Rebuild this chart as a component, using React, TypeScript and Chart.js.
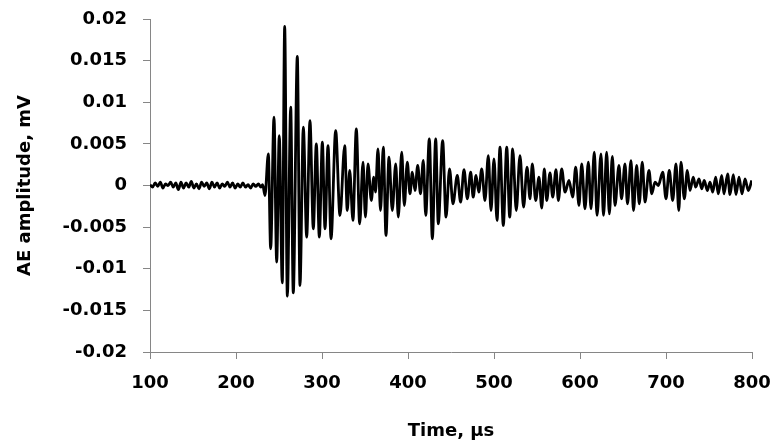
import React, { useEffect, useRef } from "react";
import { Chart, registerables } from "chart.js";

Chart.register(...registerables);

// Pre-trigger noise (time in µs, amplitude in mV)
const noiseTimes = [100, 103, 106, 109, 112, 115, 118, 121, 124, 127, 130, 133, 136, 139, 142, 145, 148, 151, 154, 157, 160, 163, 166, 169, 172, 175, 178, 181, 184, 187, 190, 193, 196, 199, 202, 205, 208, 211, 214, 217, 220, 223, 226, 229, 231];
const noiseAmps = [0.0001, -0.0002, 0.0003, -0.0001, 0.0004, -0.0003, 0.0002, 0.0, 0.0004, -0.0002, 0.0003, -0.0005, 0.0004, -0.0003, 0.0003, -0.0002, 0.0005, -0.0003, 0.0002, -0.0004, 0.0004, -0.0001, 0.0003, -0.0004, 0.0004, -0.0002, 0.0003, -0.0003, 0.0002, -0.0001, 0.0004, -0.0002, 0.0003, -0.0003, 0.0002, -0.0002, 0.0003, -0.0002, 0.0001, -0.0003, 0.0002, -0.0001, 0.0002, -0.0002, 0.0001];

// AE burst extrema (time in µs, amplitude in mV)
const burstTimes = [
  233.7, 237.6, 240.3, 244.2, 247.3, 250.3, 253.8, 256.6, 259.7, 263.6, 266.6, 271.3, 274.4, 278.3, 282.2, 286.0, 289.9, 293.4, 296.9, 300.4,
  303.5, 307.0, 310.5, 315.9, 320.9, 326.4, 329.4, 332.2, 336.0, 339.9, 343.8, 347.7, 350.5, 353.5, 357.3, 360.2, 362.2, 365.1, 368.0, 371.3,
  374.4, 377.9, 381.7, 385.7, 388.7, 392.7, 395.7, 399.2, 402.3, 405.0, 408.1, 411.3, 414.5, 417.8, 420.6, 424.8, 428.3, 432.2, 435.2, 440.3,
  444.2, 448.3, 452.3, 457.3, 461.2, 465.1, 469.0, 472.9, 475.8, 479.1, 482.3, 485.7, 489.5, 493.4, 496.5, 500.0, 503.5, 507.0, 510.8, 514.8,
  518.3, 521.7, 525.9, 530.2, 534.4, 538.4, 541.9, 544.5, 548.5, 552.3, 555.5, 558.5, 561.3, 565.1, 568.3, 572.1, 574.8, 578.7, 582.6, 587.2,
  591.5, 595.0, 598.8, 602.0, 605.8, 609.7, 612.8, 616.6, 619.8, 624.4, 627.3, 631.0, 634.1, 637.6, 640.7, 645.3, 648.3, 652.3, 655.2, 659.3,
  662.2, 665.9, 668.9, 672.4, 675.6, 680.2, 683.4, 687.2, 691.0, 696.2, 700.0, 703.8, 707.8, 711.6, 714.9, 717.4, 721.3, 724.8, 727.9, 731.7,
  734.5, 738.4, 741.5, 744.5, 748.0, 751.2, 754.3, 757.8, 760.8, 764.8, 767.4, 771.7, 774.4, 778.3, 781.4, 784.9, 788.4, 791.9, 795.7, 799.7,
];
const burstAmps = [
  -0.0012, 0.0038, -0.0076, 0.0082, -0.0092, 0.006, -0.0117, 0.0191, -0.0133, 0.0094, -0.0129, 0.0155, -0.012, 0.007, -0.0062, 0.0078, -0.0052, 0.005, -0.0062, 0.0052,
  -0.0052, 0.0048, -0.0064, 0.0066, -0.0036, 0.0048, -0.003, 0.0018, -0.0042, 0.0068, -0.0046, 0.0028, -0.0038, 0.0026, -0.0018, 0.001, -0.0008, 0.0044, -0.003, 0.0046,
  -0.006, 0.0034, -0.003, 0.0026, -0.0038, 0.004, -0.0024, 0.0028, -0.001, 0.0016, -0.0006, 0.0024, -0.001, 0.003, -0.0036, 0.0056, -0.0064, 0.0056, -0.0046, 0.0054,
  -0.0038, 0.002, -0.0022, 0.0012, -0.002, 0.0019, -0.0016, 0.0016, -0.0014, 0.0012, -0.0008, 0.002, -0.0018, 0.0036, -0.003, 0.0032, -0.0042, 0.0046, -0.0048, 0.0046,
  -0.0038, 0.0044, -0.003, 0.0036, -0.0026, 0.0022, -0.0016, 0.0026, -0.0018, 0.001, -0.0027, 0.002, -0.0018, 0.0015, -0.0014, 0.0019, -0.0018, 0.002, -0.0008, 0.0006,
  -0.0014, 0.0022, -0.0024, 0.0026, -0.0028, 0.0028, -0.0028, 0.004, -0.0036, 0.0038, -0.0036, 0.004, -0.0034, 0.0035, -0.0024, 0.0024, -0.0016, 0.0026, -0.0022, 0.003,
  -0.003, 0.0024, -0.0022, 0.0028, -0.002, 0.0018, -0.001, 0.0004, 0.0, 0.0016, -0.0016, 0.0018, -0.0018, 0.0026, -0.003, 0.0028, -0.0016, 0.0018, -0.0006, 0.001,
  -0.0002, 0.0008, -0.0004, 0.0006, -0.0006, 0.0004, -0.0008, 0.001, -0.001, 0.0012, -0.001, 0.0014, -0.0011, 0.0013, -0.0011, 0.001, -0.001, 0.0008, -0.0006, 0.0006,
];

const xTickValues = [100, 200, 300, 400, 500, 600, 700, 800];
const xTickLabels = ["100", "200", "300", "400", "500", "600", "700", "800"];
const yTickValues = [-0.02, -0.015, -0.01, -0.005, 0, 0.005, 0.01, 0.015, 0.02];
const yTickLabels = ["-0.02", "-0.015", "-0.01", "-0.005", "0", "0.005", "0.01", "0.015", "0.02"];

const xTitle = "Time, \u00b5s";
const yTitle = "AE amplitude, mV";

export default function App() {
  const ref = useRef<HTMLCanvasElement | null>(null);

  useEffect(() => {
    if (!ref.current) return;
    const times = [...noiseTimes, ...burstTimes];
    const amps = [...noiseAmps, ...burstAmps];
    const points = times.map((t, i) => ({ x: t, y: amps[i] }));
    const font = { family: "'DejaVu Sans', sans-serif", size: 18, weight: "bold" as const };
    const axisColor = "#868686";

    const chart = new Chart(ref.current, {
      type: "line",
      data: {
        datasets: [
          {
            data: points,
            borderColor: "#000000",
            borderWidth: 2.8,
            pointRadius: 0,
            cubicInterpolationMode: "monotone",
            fill: false,
          },
        ],
      },
      options: {
        animation: false,
        responsive: false,
        parsing: false as any,
        layout: { padding: { top: 19, right: 21, left: 0, bottom: 0 } },
        plugins: { legend: { display: false }, tooltip: { enabled: false } },
        scales: {
          x: {
            type: "linear",
            min: 100,
            max: 800,
            afterBuildTicks: (s: any) => {
              s.ticks = xTickValues.map((v) => ({ value: v }));
            },
            afterFit: (s: any) => {
              s.height = 95;
              s.paddingLeft = 0;
              s.paddingRight = 0;
              s.paddingTop = 0;
              s.paddingBottom = 0;
            },
            ticks: {
              color: "#000000",
              font,
              padding: 14,
              maxRotation: 0,
              autoSkip: false,
              callback: (_v: any, i: number) => xTickLabels[i],
            },
            grid: { display: true, drawOnChartArea: false, drawTicks: true, tickLength: 7, color: axisColor },
            border: { display: true, color: axisColor, width: 1 },
            title: { display: true, text: xTitle, color: "#000000", font, padding: { top: 0, bottom: 5 } },
          },
          y: {
            type: "linear",
            min: -0.02,
            max: 0.02,
            afterBuildTicks: (s: any) => {
              s.ticks = yTickValues.map((v) => ({ value: v }));
            },
            afterFit: (s: any) => {
              s.width = 150;
              s.paddingLeft = 0;
              s.paddingRight = 0;
              s.paddingTop = 0;
              s.paddingBottom = 0;
            },
            ticks: {
              color: "#000000",
              font,
              padding: 16,
              autoSkip: false,
              callback: (_v: any, i: number) => yTickLabels[i],
            },
            grid: { display: true, drawOnChartArea: false, drawTicks: true, tickLength: 7, color: axisColor },
            border: { display: true, color: axisColor, width: 1 },
            title: { display: true, text: yTitle, color: "#000000", font, padding: { top: 15, bottom: 0 } },
          },
        },
      },
    });
    return () => chart.destroy();
  }, []);

  return (
    <div style={{ position: "fixed", left: 0, top: 0, width: 773, height: 447, background: "#ffffff" }}>
      <canvas ref={ref} width={773} height={447} style={{ display: "block" }} />
    </div>
  );
}
